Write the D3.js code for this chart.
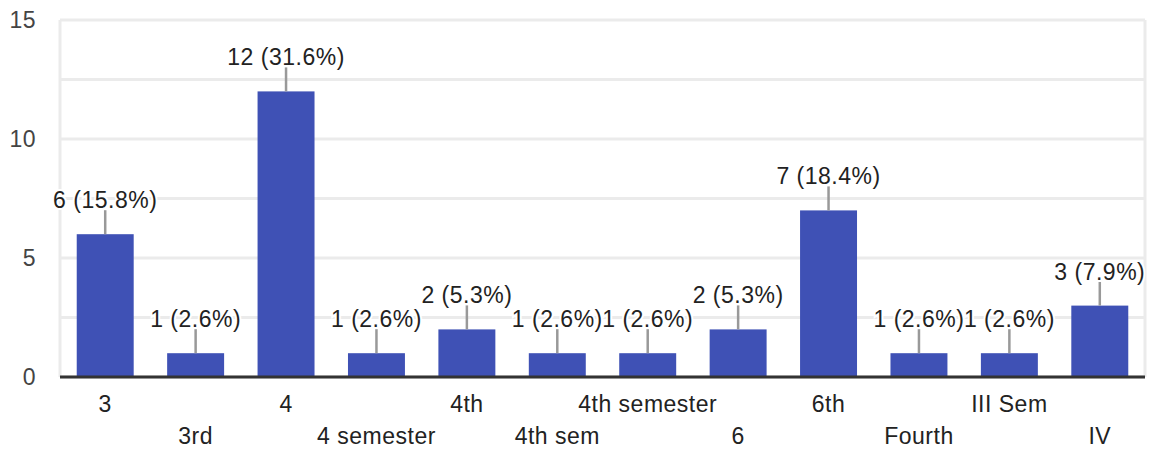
<!DOCTYPE html>
<html>
<head>
<meta charset="utf-8">
<script src="https://cdn.jsdelivr.net/npm/d3@7"></script>
<style>
  body { margin: 0; background: #fff; }
  text { font-family: Arial, "Liberation Sans", sans-serif; letter-spacing: 0.5px; }
</style>
</head>
<body>
<div id="chart"></div>
<script>
// data
var categories = ['3', '3rd', '4', '4 semester', '4th', '4th sem', '4th semester', '6', '6th', 'Fourth', 'III Sem', 'IV']
var counts = [6, 1, 12, 1, 2, 1, 1, 2, 7, 1, 1, 3]
var percents = ['15.8%', '2.6%', '31.6%', '2.6%', '5.3%', '2.6%', '2.6%', '5.3%', '18.4%', '2.6%', '2.6%', '7.9%']
var yTicks = [0, 5, 10, 15]
var yGrid = [0, 2.5, 5, 7.5, 10, 12.5, 15]

var W = 1152, H = 450
var margin = { top: 20, right: 7, bottom: 73, left: 60 }
var w = W - margin.left - margin.right
var h = H - margin.top - margin.bottom
var fs = 23
var font = 'Arial, "Liberation Sans", sans-serif'

var svg = d3.select('#chart').append('svg')
    .attr('width', W)
    .attr('height', H)
  .append('g')
    .attr('transform', 'translate(' + margin.left + ',' + margin.top + ')')

var xScale = d3.scaleBand()
  .domain(categories)
  .range([0, w])
  .paddingInner(0.37)
  .paddingOuter(0.185)
var yScale = d3.scaleLinear()
  .domain([0, 15])
  .range([h, 0])

// gridlines
svg.selectAll('.grid')
    .data(yGrid)
    .enter()
  .append('line')
    .attr('x1', 0)
    .attr('x2', w)
    .attr('y1', function (d) { return yScale(d) })
    .attr('y2', function (d) { return yScale(d) })
    .attr('stroke', '#ebebeb')
    .attr('stroke-width', 3)
svg.selectAll('.vgrid')
    .data([0, w])
    .enter()
  .append('line')
    .attr('x1', function (d) { return d })
    .attr('x2', function (d) { return d })
    .attr('y1', 0)
    .attr('y2', h)
    .attr('stroke', '#ebebeb')
    .attr('stroke-width', 3)

// y axis labels
var yAxis = d3.axisLeft(yScale).tickValues(yTicks).tickSize(0).tickPadding(24)
var yg = svg.append('g').call(yAxis)
yg.select('.domain').remove()
yg.selectAll('text')
    .attr('font-size', fs)
    .attr('fill', '#444')
    .style('font-family', font)

// bars
svg.selectAll('.bar')
    .data(counts)
    .enter()
  .append('rect')
    .attr('x', function (d, i) { return xScale(categories[i]) })
    .attr('y', function (d) { return yScale(d) })
    .attr('width', xScale.bandwidth())
    .attr('height', function (d) { return h - yScale(d) })
    .attr('fill', '#3f51b5')

// baseline
svg.append('line')
    .attr('x1', 0).attr('x2', w)
    .attr('y1', h).attr('y2', h)
    .attr('stroke', '#333')
    .attr('stroke-width', 3)

// x labels, alternating rows
var xAxis = d3.axisBottom(xScale).tickSize(0)
var xg = svg.append('g')
    .attr('transform', 'translate(0,' + h + ')')
    .call(xAxis)
xg.select('.domain').remove()
xg.selectAll('text')
    .attr('font-size', fs)
    .attr('fill', '#222')
    .style('font-family', font)
    .attr('y', function (d, i) { return i % 2 === 0 ? 19 : 51 })

// value labels with leader lines
var cx = function (i) { return xScale(categories[i]) + xScale.bandwidth() / 2 }
var labels = svg.selectAll('.vlabel')
    .data(counts)
    .enter()
  .append('g')
labels.append('line')
    .attr('x1', function (d, i) { return cx(i) })
    .attr('x2', function (d, i) { return cx(i) })
    .attr('y1', function (d) { return yScale(d) - 24 })
    .attr('y2', function (d) { return yScale(d) })
    .attr('stroke', '#999')
    .attr('stroke-width', 2.5)
labels.append('text')
    .attr('x', function (d, i) { return cx(i) })
    .attr('y', function (d) { return yScale(d) - 26 })
    .attr('text-anchor', 'middle')
    .attr('font-size', fs)
    .attr('fill', '#222')
    .attr('stroke', '#fff')
    .attr('stroke-width', 4)
    .attr('paint-order', 'stroke')
    .text(function (d, i) { return d + ' (' + percents[i] + ')' })
</script>
</body>
</html>
